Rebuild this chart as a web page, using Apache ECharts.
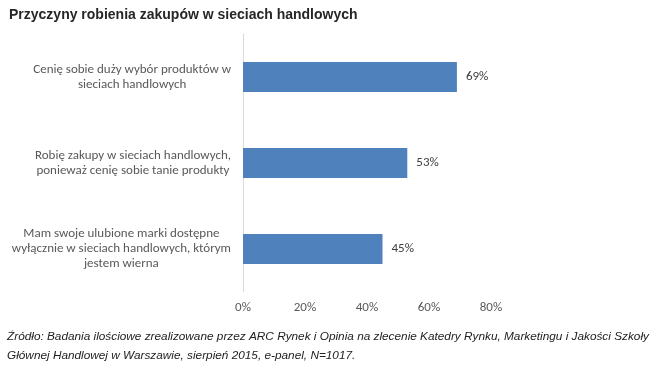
<!DOCTYPE html>
<html><head><meta charset="utf-8">
<script src="https://cdn.jsdelivr.net/npm/echarts@6/dist/echarts.min.js"></script>
<style>html,body{margin:0;padding:0;background:#fff}#c{width:655px;height:379px}</style>
</head><body><div id="c"></div>
<script>
const titleText = 'Przyczyny robienia zakupów w sieciach handlowych';
const categories = [
  'Cenię sobie duży wybór produktów w\nsieciach handlowych',
  'Robię zakupy w sieciach handlowych,\nponieważ cenię sobie tanie produkty',
  'Mam swoje ulubione marki dostępne\nwyłącznie w sieciach handlowych, którym\njestem wierna'
];
const values = [69, 53, 45];
const axisMin = 0, axisMax = 80, axisStep = 20;
const sourceLines = [
  'Źródło: Badania ilościowe zrealizowane przez ARC Rynek i Opinia na zlecenie Katedry Rynku, Marketingu i Jakości Szkoły',
  'Głównej Handlowej w Warszawie, sierpień 2015, e-panel, N=1017.'
];
const FF = 'Carlito, Lato';

const chart = echarts.init(document.getElementById('c'), null, {renderer: 'canvas'});
chart.setOption({
  animation: false,
  backgroundColor: '#fff',
  title: {
    text: titleText, left: 4, top: 3,
    textStyle: {fontFamily: 'Liberation Sans, Arial', fontWeight: 'bold', fontSize: 14, color: '#262626'}
  },
  grid: {left: 243, right: 164, top: 34, bottom: 87, containLabel: false},
  xAxis: {
    type: 'value', min: axisMin, max: axisMax, interval: axisStep,
    axisLine: {show: false}, axisTick: {show: false}, splitLine: {show: false},
    axisLabel: {formatter: '{value}%', color: '#595959', fontFamily: FF, fontSize: 13, margin: 9}
  },
  yAxis: {
    type: 'category', data: categories, inverse: true,
    axisLine: {show: true, lineStyle: {color: '#d9d9d9', width: 1}},
    axisTick: {show: false},
    axisLabel: {
      color: '#595959', fontFamily: FF, fontSize: 13, lineHeight: 15, align: 'right', margin: 12,
      formatter: v => v.split('\n').map(l => '{c|' + l + '}').join('\n'),
      rich: {c: {align: 'center', color: '#595959', fontFamily: FF, fontSize: 13, lineHeight: 15}}
    }
  },
  series: [{
    type: 'bar', data: values, barWidth: 30,
    itemStyle: {color: '#4f81bd'},
    label: {show: true, position: 'right', distance: 9, formatter: '{c}%', color: '#404040', fontFamily: FF, fontSize: 13}
  }],
  graphic: sourceLines.map((t, i) => ({
    type: 'text', left: 7, top: 331 + i * 19,
    style: {text: t, fill: '#222', font: 'italic 11.8px "Liberation Sans", Arial'}
  }))
});
</script></body></html>
